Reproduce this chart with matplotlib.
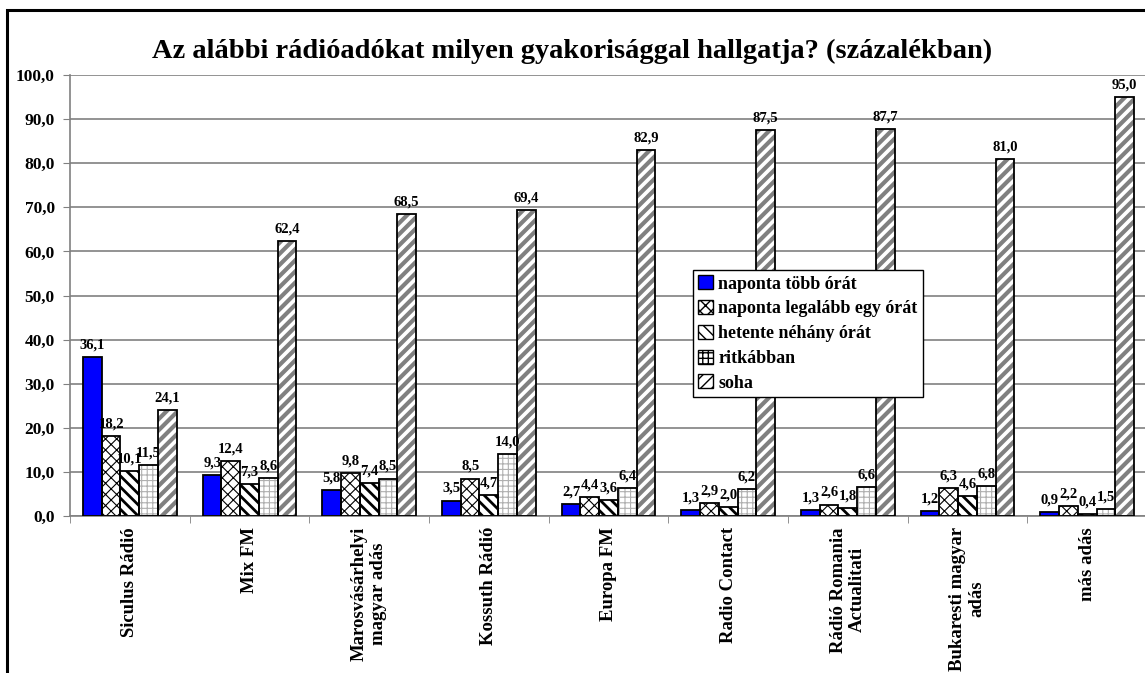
import numpy as np
import matplotlib
matplotlib.use("Agg")
import matplotlib.pyplot as plt
from matplotlib.patches import Patch, Rectangle

plt.rcParams['font.family'] = ['Liberation Serif', 'DejaVu Serif']
plt.rcParams['font.weight'] = 'bold'

# Adatok
radiok = ['Siculus Rádió', 'Mix FM', 'Marosvásárhelyi\nmagyar adás', 'Kossuth Rádió',
          'Europa FM', 'Radio Contact', 'Rádió Romania\nActualitati',
          'Bukaresti magyar\nadás', 'más adás']
kategoriak = ['naponta több órát', 'naponta legalább egy órát', 'hetente néhány órát',
              'ritkábban', 'soha']
naponta_tobb = [36.1, 9.3, 5.8, 3.5, 2.7, 1.3, 1.3, 1.2, 0.9]
naponta_egy = [18.2, 12.4, 9.8, 8.5, 4.4, 2.9, 2.6, 6.3, 2.2]
hetente = [10.1, 7.3, 7.4, 4.7, 3.6, 2.0, 1.8, 4.6, 0.4]
ritkabban = [11.5, 8.6, 8.5, 14.0, 6.4, 6.2, 6.6, 6.8, 1.5]
soha = [24.1, 62.4, 68.5, 69.4, 82.9, 87.5, 87.7, 81.0, 95.0]
sorok = [naponta_tobb, naponta_egy, hetente, ritkabban, soha]

# stílus: (háttér, minta, mintaszín, mintavastagság)
stilusok = [
    ('#0000ff', '', 'black', 1.0),
    ('white', 'xxx', 'black', 0.8),
    ('white', '\\\\\\', 'black', 2.0),
    ('white', '+++', '#b0b0b0', 0.8),
    ('white', '///', '#808080', 3.0),
]


def minta_vastagsag(patch, lw):
    if hasattr(patch, 'set_hatch_linewidth'):
        patch.set_hatch_linewidth(lw)
    elif hasattr(patch, '_hatch_linewidth'):
        patch._hatch_linewidth = lw


fig = plt.figure(figsize=(11.45, 6.73), dpi=100)
ax = fig.add_axes([70/1145, 1-516/673, (1147-70)/1145, 441/673])

x = np.arange(len(radiok)) + 0.5
w = 0.156
for i, (vals, (fc, hatch, hc, hlw)) in enumerate(zip(sorok, stilusok)):
    pos = x + (i - 2) * w
    with plt.rc_context({'hatch.linewidth': hlw}):
        bars = ax.bar(pos, vals, w, color=fc, hatch=hatch, edgecolor=hc, linewidth=0, zorder=2)
    for b in bars:
        minta_vastagsag(b, hlw)
    ax.bar(pos, vals, w, fill=False, edgecolor='black', linewidth=1.3, zorder=3)
    for p, v in zip(pos, vals):
        ax.annotate(f'{v:.1f}'.replace('.', ','), (p, v), xytext=(0, 4),
                    textcoords='offset points', ha='center', va='bottom',
                    fontsize=10.5, fontweight='bold', zorder=4)

ax.set_xlim(0, len(radiok))
ax.set_ylim(0, 100)
ax.set_yticks(np.arange(0, 101, 10))
ax.set_yticklabels([f'{t:.1f}'.replace('.', ',') for t in np.arange(0, 101, 10)],
                   fontsize=12.5, fontweight='bold')
ax.yaxis.grid(True, color='#808080', linewidth=1.2, zorder=0)
ax.set_axisbelow(True)
ax.set_xticks(np.arange(len(radiok) + 1), minor=True)
ax.set_xticks(x)
ax.set_xticklabels(radiok, rotation=90, fontsize=13.5, fontweight='bold',
                   va='top', ha='center', multialignment='center')
ax.tick_params(axis='x', which='major', length=0, pad=8)
ax.tick_params(axis='x', which='minor', length=5, color='#808080')
ax.tick_params(axis='y', length=5, color='#808080', pad=6)
for s in ['top', 'right']:
    ax.spines[s].set_visible(False)
ax.spines['left'].set_color('#808080')
ax.spines['bottom'].set_color('#808080')
ax.spines['left'].set_linewidth(1.2)
ax.spines['bottom'].set_linewidth(1.2)

fig.text(0.5, 1-51/673, 'Az alábbi rádióadókat milyen gyakorisággal hallgatja? (százalékban)',
         ha='center', va='center', fontsize=20.5, fontweight='bold')

# jelmagyarázat
fogantyuk = []
for fc, hatch, hc, hlw in stilusok:
    h = Patch(facecolor=fc, hatch=hatch, edgecolor='black', linewidth=1.0)
    minta_vastagsag(h, min(hlw, 1.0))
    fogantyuk.append(h)
leg = fig.legend(fogantyuk, kategoriak, loc='upper left',
                 bbox_to_anchor=(693/1145, 1-270/673), fancybox=False,
                 edgecolor='black', framealpha=1, borderpad=0.3, handlelength=0.8,
                 handleheight=0.8, handletextpad=0.3, labelspacing=0.42, borderaxespad=0,
                 prop={'size': 13, 'weight': 'bold'})
leg.get_frame().set_linewidth(1.0)

fig.add_artist(Rectangle((7/1145, -0.1), 1.2, 1-10/673+0.1, transform=fig.transFigure,
                         fill=False, edgecolor='black', linewidth=2.2))

fig.savefig('out.png', dpi=100)
